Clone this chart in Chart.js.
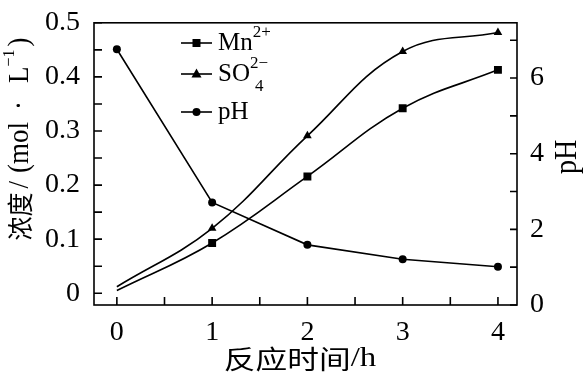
<!DOCTYPE html>
<html>
<head>
<meta charset="utf-8">
<script src="https://cdn.jsdelivr.net/npm/chart.js@4.4.1/dist/chart.umd.min.js"></script>
<style>
html, body { margin: 0; padding: 0; background: #fff; }
#wrap { width: 587px; height: 376px; }
</style>
</head>
<body>
<div id="wrap"><canvas id="chart" width="587" height="376"></canvas></div>
<script>
// 数据
const hours = [0, 1, 2, 3, 4];
const mnConc = [0.005, 0.093, 0.216, 0.342, 0.413];
const so4Conc = [0.012, 0.120, 0.291, 0.447, 0.482];
const phValues = [6.76, 2.71, 1.59, 1.21, 1.01];

// 刻度
const xTicks = [0, 0.5, 1, 1.5, 2, 2.5, 3, 3.5, 4];
const concTicks = [0, 0.05, 0.1, 0.15, 0.2, 0.25, 0.3, 0.35, 0.4, 0.45, 0.5];
const phTicks = [0, 1, 2, 3, 4, 5, 6, 7];

const SERIF = '"Liberation Serif", "Times New Roman", serif';
const CJK = '"Noto Sans CJK SC", sans-serif';
Chart.defaults.font.family = SERIF;

// 画一串文字片段 (上标/下标)
function measureRuns(ctx, runs) {
    let w = 0;
    runs.forEach(r => {
        if (r.gap) { w += r.gap; return; }
        ctx.font = r.font;
        w += ctx.measureText(r.text).width - (r.back || 0);
    });
    return w;
}
function drawRuns(ctx, runs, x, y) {
    let cx = x;
    runs.forEach(r => {
        if (r.gap) { cx += r.gap; return; }
        ctx.font = r.font;
        ctx.fillText(r.text, cx + (r.dx || 0), y + (r.dy || 0));
        cx += ctx.measureText(r.text).width - (r.back || 0);
    });
}

function drawMarker(ctx, style, x, y) {
    ctx.beginPath();
    if (style === 'rect') {
        ctx.rect(x - 4, y - 4, 8, 8);
    } else if (style === 'triangle') {
        ctx.moveTo(x, y - 5.5);
        ctx.lineTo(x + 5, y + 3.5);
        ctx.lineTo(x - 5, y + 3.5);
        ctx.closePath();
    } else {
        ctx.arc(x, y, 4, 0, Math.PI * 2);
    }
    ctx.fill();
}

const legendRows = [
    { style: 'rect', y: 43, runs: [
        { text: 'Mn', font: '25px ' + SERIF },
        { text: '2+', font: '17px ' + SERIF, dy: -10 }
    ] },
    { style: 'triangle', y: 74, runs: [
        { text: 'SO', font: '25px ' + SERIF },
        { text: '2\u2212', font: '17px ' + SERIF, dy: -10 },
        { text: '4', font: '17px ' + SERIF, dy: 13, dx: -13 }
    ] },
    { style: 'circle', y: 112, runs: [
        { text: 'pH', font: '25px ' + SERIF }
    ] }
];

const decorPlugin = {
    id: 'decor',
    afterDraw(chart) {
        const ctx = chart.ctx;
        const a = chart.chartArea;
        ctx.save();
        ctx.strokeStyle = '#000';
        ctx.fillStyle = '#000';
        ctx.lineWidth = 1.6;

        // 边框
        ctx.strokeRect(a.left, a.top, a.right - a.left, a.bottom - a.top);

        // 内向刻度
        ctx.beginPath();
        chart.scales.x.ticks.forEach(t => {
            const px = chart.scales.x.getPixelForValue(t.value);
            ctx.moveTo(px, a.bottom);
            ctx.lineTo(px, a.bottom - 8);
        });
        chart.scales.y.ticks.forEach(t => {
            const py = chart.scales.y.getPixelForValue(t.value);
            ctx.moveTo(a.left, py);
            ctx.lineTo(a.left + 8, py);
        });
        chart.scales.y1.ticks.forEach(t => {
            const py = chart.scales.y1.getPixelForValue(t.value);
            ctx.moveTo(a.right, py);
            ctx.lineTo(a.right - 7, py);
        });
        ctx.stroke();

        // 图例
        ctx.textBaseline = 'middle';
        legendRows.forEach(row => {
            ctx.beginPath();
            ctx.moveTo(181, row.y);
            ctx.lineTo(212, row.y);
            ctx.stroke();
            drawMarker(ctx, row.style, 196.5, row.y);
            drawRuns(ctx, row.runs, 218, row.y);
        });

        // x 轴标题
        const xRuns = [
            { text: '反应时间', font: '26px ' + CJK },
            { text: '/h', font: '27px ' + SERIF }
        ];
        ctx.save();
        ctx.translate(300, 359);
        ctx.scale(1.22, 1);
        ctx.textBaseline = 'middle';
        drawRuns(ctx, xRuns, -measureRuns(ctx, xRuns) / 2, 0);
        ctx.restore();

        // 左轴标题
        const yRuns = [
            { text: '浓度', font: '24px ' + CJK },
            { gap: 4 },
            { text: '/', font: '27px ' + SERIF },
            { gap: 8 },
            { text: '(mol', font: '27px ' + SERIF },
            { gap: 12 },
            { text: '\u00b7', font: '27px ' + SERIF },
            { gap: 18 },
            { text: 'L', font: '27px ' + SERIF },
            { text: '\u22121', font: '16px ' + SERIF, dy: -10 },
            { gap: 3 },
            { text: ')', font: '27px ' + SERIF }
        ];
        ctx.save();
        ctx.translate(20, 139);
        ctx.scale(1.1, 1);
        ctx.rotate(-Math.PI / 2);
        ctx.textBaseline = 'middle';
        drawRuns(ctx, yRuns, -measureRuns(ctx, yRuns) / 2, 0);
        ctx.restore();

        // 右轴标题
        const pRuns = [{ text: 'pH', font: '28px ' + SERIF }];
        ctx.save();
        ctx.translate(568, 157);
        ctx.scale(1.1, 1);
        ctx.rotate(-Math.PI / 2);
        ctx.textBaseline = 'middle';
        drawRuns(ctx, pRuns, -measureRuns(ctx, pRuns) / 2, 0);
        ctx.restore();

        ctx.restore();
    }
};

const tickFont = { family: SERIF, size: 28 };

new Chart(document.getElementById('chart'), {
    type: 'line',
    data: {
        datasets: [
            {
                label: 'Mn2+',
                data: hours.map((h, i) => ({ x: h, y: mnConc[i] })),
                yAxisID: 'y',
                borderColor: '#000',
                backgroundColor: '#000',
                borderWidth: 1.6,
                pointStyle: 'rect',
                pointRadius: [0, 5.6, 5.6, 5.6, 5.6],
                pointBorderWidth: 0,
                tension: 0.4
            },
            {
                label: 'SO42-',
                data: hours.map((h, i) => ({ x: h, y: so4Conc[i] })),
                yAxisID: 'y',
                borderColor: '#000',
                backgroundColor: '#000',
                borderWidth: 1.6,
                pointStyle: 'triangle',
                pointRadius: [0, 5, 5, 5, 5],
                pointBorderWidth: 0,
                tension: 0.4
            },
            {
                label: 'pH',
                data: hours.map((h, i) => ({ x: h, y: phValues[i] })),
                yAxisID: 'y1',
                borderColor: '#000',
                backgroundColor: '#000',
                borderWidth: 1.6,
                pointStyle: 'circle',
                pointRadius: 4,
                pointBorderWidth: 0,
                tension: 0
            }
        ]
    },
    options: {
        responsive: false,
        animation: false,
        layout: { padding: { top: 16, left: 0, right: 0, bottom: 0 } },
        plugins: {
            legend: { display: false },
            tooltip: { enabled: false }
        },
        scales: {
            x: {
                type: 'linear',
                min: -0.24,
                max: 4.2,
                afterBuildTicks: s => { s.ticks = xTicks.map(v => ({ value: v })); },
                afterFit: s => { s.height = 71; },
                grid: { display: false },
                border: { display: false },
                ticks: {
                    color: '#000',
                    font: tickFont,
                    padding: 3,
                    autoSkip: false,
                    maxRotation: 0,
                    callback: v => Number.isInteger(v) ? String(v) : ''
                }
            },
            y: {
                position: 'left',
                min: -0.0217,
                max: 0.5,
                afterBuildTicks: s => { s.ticks = concTicks.map(v => ({ value: v })); },
                afterFit: s => { s.width = 94; },
                grid: { display: false },
                border: { display: false },
                ticks: {
                    color: '#000',
                    font: tickFont,
                    padding: 6,
                    autoSkip: false,
                    callback: v => {
                        const k = Math.round(v * 100);
                        if (k % 10 !== 0) return '';
                        return k === 0 ? '0' : (k / 100).toFixed(1);
                    }
                }
            },
            y1: {
                position: 'right',
                min: 0,
                max: 7.46,
                afterBuildTicks: s => { s.ticks = phTicks.map(v => ({ value: v })); },
                afterFit: s => { s.width = 70; },
                grid: { display: false },
                border: { display: false },
                ticks: {
                    color: '#000',
                    font: tickFont,
                    padding: 5,
                    autoSkip: false,
                    callback: v => (v % 2 === 0 ? String(v) : '')
                }
            }
        }
    },
    plugins: [decorPlugin]
});
</script>
</body>
</html>
